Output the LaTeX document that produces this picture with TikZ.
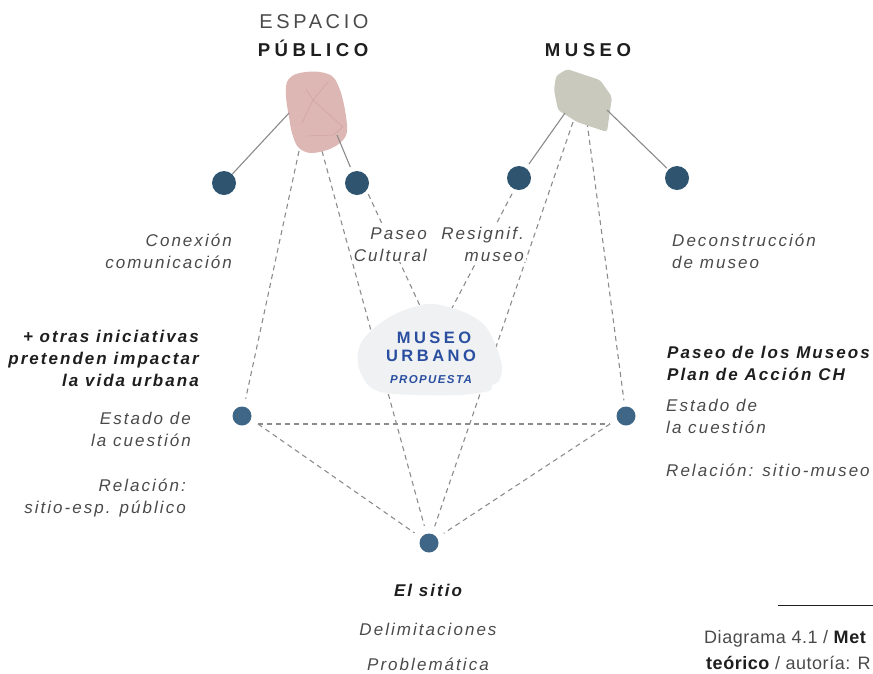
\documentclass[tikz,border=0pt]{standalone}
\usepackage{fontspec}
\setmainfont{Liberation Sans}
\newfontfamily\lblfont[LetterSpace=12]{Liberation Sans}
\newfontfamily\ttlfont[LetterSpace=24]{Liberation Sans}
\newfontfamily\urbfont[LetterSpace=21]{Liberation Sans}
\newfontfamily\widefont[LetterSpace=18]{Liberation Sans}
\newfontfamily\capfont[LetterSpace=3]{Liberation Sans}
\definecolor{dotdark}{HTML}{2E5470}
\definecolor{dotlight}{HTML}{3F6686}
\definecolor{pinkblob}{HTML}{DDB7B3}
\definecolor{pinkline}{HTML}{D0A6A2}
\definecolor{greyblob}{HTML}{C9C9BD}
\definecolor{urbblob}{HTML}{EFF1F3}
\definecolor{urbtext}{HTML}{2B4FA0}
\definecolor{lngray}{HTML}{8A8A8A}
\definecolor{dashgray}{HTML}{8C8C8C}
\definecolor{lbltext}{HTML}{4A4A4A}
\definecolor{boldtext}{HTML}{1E1E1E}
\begin{document}
\begin{tikzpicture}[x=1pt,y=-1pt,
  topdot/.style={circle,fill=dotdark,minimum size=24pt,inner sep=0pt},
  lowdot/.style={circle,fill=dotlight,minimum size=19pt,inner sep=0pt},
  solidln/.style={draw=lngray,line width=1.1pt},
  dashln/.style={draw=dashgray,line width=1.1pt,dash pattern=on 5pt off 4pt},
  lbl/.style={font=\fontsize{17}{22}\selectfont\lblfont\itshape,text=lbltext,inner sep=0pt},
  blbl/.style={font=\fontsize{17}{22}\selectfont\lblfont\bfseries\itshape,text=boldtext,inner sep=0pt},
  ttl/.style={font=\fontsize{18.6}{22}\selectfont\ttlfont\bfseries,text=boldtext,inner sep=0pt},
  urb/.style={font=\fontsize{16.5}{20}\selectfont\urbfont\bfseries,text=urbtext,inner sep=0pt},
  capt/.style={font=\fontsize{18}{22}\selectfont\capfont,text=lbltext,inner sep=0pt}
]
\useasboundingbox (0,0) rectangle (873,673);

% nodes (dots)
\node[topdot] (c1) at (224,183) {};
\node[topdot] (c2) at (357,183) {};
\node[topdot] (c3) at (519,178) {};
\node[topdot] (c4) at (677,178) {};
\node[lowdot] (dl) at (242,416) {};
\node[lowdot] (dr) at (626,416) {};
\node[lowdot] (ds) at (429,543) {};

% connection coordinates
\coordinate (pA) at (289,113);
\coordinate (pB) at (337,135);
\coordinate (pC) at (299,151);
\coordinate (pD) at (322,151);
\coordinate (gA) at (565,113);
\coordinate (gB) at (607,110);
\coordinate (gC) at (573,122);
\coordinate (gD) at (587,122);
\coordinate (mA) at (421,308);
\coordinate (mB) at (451,310);
\coordinate (tL) at (258,424);
\coordinate (tR) at (610,424);

% dashed connectors
\draw[dashln,shorten >=8pt] (pC) -- (dl);
\draw[dashln,shorten >=8pt] (pD) -- (ds);
\draw[dashln,shorten >=8pt] (gC) -- (ds);
\draw[dashln,shorten >=6pt] (gD) -- (dr);
\draw[dashln,shorten <=4pt] (c2.-38) -- (mA);
\draw[dashln,shorten <=5pt] (c3.-112) -- (mB);
\draw[dashln] (tL) -- (tR);
\draw[dashln,shorten >=8pt] (tL) -- (ds);
\draw[dashln,shorten >=8pt] (tR) -- (ds);

% blobs
\fill[pinkblob] plot[smooth cycle,tension=0.55] coordinates {(287,82) (296,74) (315,71.5) (332,76) (340,90) (345,110) (347,132) (340,143) (327,150) (310,153) (298,147) (292,133) (289,117) (286,97)};
\draw[pinkline,line width=0.6pt] (306,89) -- (313,100) -- (343,127) -- (333,135) -- (307,136);
\draw[pinkline,line width=0.6pt] (328,82) -- (313,100) -- (302,123);
\fill[greyblob,rounded corners=3pt] (556,76) -- (567,69) -- (600,80) -- (612,97) -- (607,132) -- (577,122) -- (558,110) -- (554,90) -- cycle;
\fill[urbblob] plot[smooth cycle,tension=0.55] coordinates {(427,304) (452,308) (472,316) (486,327) (496,346) (502,367) (499,381) (492,385) (489,391) (460,395) (420,395) (385,393) (368,385) (358,365) (360,345) (372,330) (395,314)};

% solid connectors
\draw[solidln] (pA) -- (c1);
\draw[solidln,shorten >=5pt] (pB) -- (c2);
\draw[solidln,shorten >=5pt] (gA) -- (c3);
\draw[solidln,shorten >=2pt] (gB) -- (c4);

% titles
\node[font=\fontsize{20}{24}\selectfont\widefont,text=lbltext,inner sep=0pt,anchor=base] (tEsp) at (314,28) {ESPACIO};
\node[ttl,anchor=base] (tPub) at (313,56) {PÚBLICO};
\node[ttl,anchor=base] (tMus) at (588,56) {MUSEO};

% centre blob text
\node[urb,anchor=base] (uM) at (434,343) {MUSEO};
\node[urb,anchor=base] (uU) at (431,361) {URBANO};
\node[font=\fontsize{11.5}{14}\selectfont\lblfont\bfseries\itshape,text=urbtext,inner sep=0pt,anchor=base] (uP) at (431,383) {PROPUESTA};

% labels
\node[lbl,align=right,anchor=north east] (lCon) at (232,230.6) {\strut Conexión\\comunicación};
\node[lbl,align=right,anchor=north east,fill=white,inner xsep=2pt,inner ysep=1pt] (lPas) at (429,222.6) {\strut Paseo\\Cultural};
\node[lbl,align=right,anchor=north east,fill=white,inner xsep=2pt,inner ysep=1pt] (lRes) at (526,222.6) {\strut Resignif.\\museo};
\node[lbl,align=left,anchor=north west] (lDec) at (672,230.6) {\strut Deconstrucción\\de museo};
\node[blbl,align=right,anchor=north east] (lOtr) at (199,326.6) {\strut + otras iniciativas\\pretenden impactar\\la vida urbana};
\node[lbl,align=right,anchor=north east] (lEstL) at (191,408.6) {\strut Estado de\\la cuestión};
\node[lbl,align=right,anchor=north east] (lRelL) at (186,475.6) {\strut Relación:\\sitio-esp. público};
\node[blbl,align=left,anchor=north west] (lPdm) at (667,342.6) {\strut Paseo de los Museos\\Plan de Acción CH};
\node[lbl,align=left,anchor=north west] (lEstR) at (666,395.6) {\strut Estado de\\la cuestión};
\node[lbl,anchor=base west] (lRelR) at (666,476) {Relación: sitio-museo};
\node[blbl,anchor=base] (lSit) at (428,596) {El sitio};
\node[lbl,anchor=base] (lDel) at (428,635) {Delimitaciones};
\node[lbl,anchor=base] (lPro) at (428,670) {Problemática};

% caption
\draw[boldtext,line width=1pt] (778,605) -- (873,605);
\node[capt,anchor=base west] (cap1) at (704,643) {Diagrama 4.1 / \textcolor{boldtext}{\bfseries Met}};
\node[capt,anchor=base west] (cap2) at (706,669) {\textcolor{boldtext}{\bfseries teórico} / autoría: R};
\end{tikzpicture}
\end{document}
